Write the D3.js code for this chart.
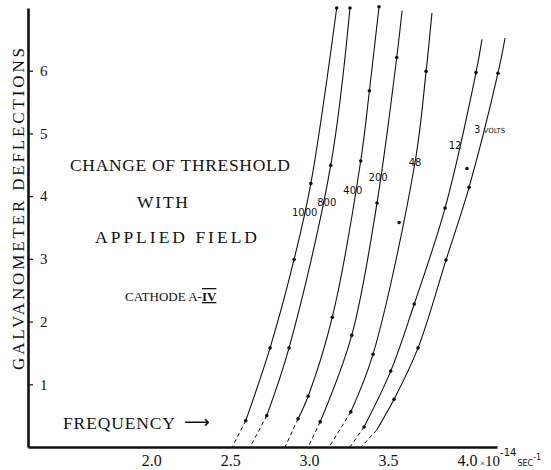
<!DOCTYPE html>
<html>
<head>
<meta charset="utf-8">
<script src="https://cdn.jsdelivr.net/npm/d3@7"></script>
<style>
  body { margin: 0; background: #fff; }
  svg { display: block; }
</style>
</head>
<body>
<div id="viz"></div>
<script>
// frequency in units of 10^14 / sec, deflection in galvanometer divisions
var freqTicks = [2.0, 2.5, 3.0, 3.5, 4.0];
var deflTicks = [1, 2, 3, 4, 5, 6];
var voltLabels = ["1000", "800", "400", "200", "48", "12", "3"];

// drawn curves (top to bottom)
var line1000 = [[3.175, 7.00], [3.011, 4.20], [2.905, 2.99], [2.753, 1.58], [2.599, 0.42]];
var line800 = [[3.259, 7.00], [3.137, 4.49], [2.873, 1.58], [2.732, 0.50]];
var line400 = [[3.443, 7.02], [3.382, 5.68], [3.327, 4.56], [3.147, 2.07], [2.994, 0.81], [2.930, 0.45]];
var line200 = [[3.589, 6.96], [3.555, 6.21], [3.430, 3.89], [3.270, 1.78], [3.070, 0.40]];
var line48 = [[3.778, 6.92], [3.741, 5.99], [3.671, 4.54], [3.405, 1.48], [3.264, 0.56]];
var line12 = [[4.095, 6.50], [4.057, 5.97], [3.861, 3.81], [3.666, 2.28], [3.517, 1.21], [3.348, 0.32]];
var line3 = [[4.241, 6.52], [4.196, 5.96], [4.013, 4.14], [3.867, 2.98], [3.690, 1.58], [3.538, 0.76], [3.428, 0.27]];

// measured points
var dots1000 = [[3.175, 7.00], [3.011, 4.20], [2.905, 2.99], [2.753, 1.58], [2.599, 0.42]];
var dots800 = [[3.259, 7.00], [3.137, 4.49], [2.873, 1.58], [2.732, 0.50]];
var dots400 = [[3.443, 7.02], [3.382, 5.68], [3.327, 4.56], [3.147, 2.07], [2.994, 0.81], [2.930, 0.45]];
var dots200 = [[3.555, 6.21], [3.430, 3.89], [3.270, 1.78], [3.070, 0.40]];
var dots48 = [[3.741, 5.99], [3.570, 3.58], [3.405, 1.48], [3.264, 0.56]];
var dots12 = [[4.057, 5.97], [4.000, 4.44], [3.861, 3.81], [3.666, 2.28], [3.517, 1.21], [3.348, 0.32]];
var dots3 = [[4.196, 5.96], [4.013, 4.14], [3.867, 2.98], [3.690, 1.58], [3.538, 0.76]];

// extrapolated threshold (zero deflection)
var thresholds = [2.513, 2.627, 2.848, 2.994, 3.127, 3.259, 3.329];

// where each voltage label sits
var labelAt = [[2.972, 3.74], [3.112, 3.91], [3.277, 4.10], [3.437, 4.31], [3.671, 4.54], [3.924, 4.82], [4.045, 5.07]];

var lines = [line1000, line800, line400, line200, line48, line12, line3];
var dots = [dots1000, dots800, dots400, dots200, dots48, dots12, dots3];

var width = 551;
var height = 470;

var svg = d3.select("#viz")
    .append("svg")
    .attr("width", width)
    .attr("height", height)
    .style("background", "#fff");

var x = d3.scaleLinear().domain([1.22, 4.19]).range([28, 497]);
var y = d3.scaleLinear().domain([0, 7]).range([447, 8]);

var serif = "'Liberation Serif', 'DejaVu Serif', serif";
var sans = "'DejaVu Sans', 'Noto Sans', sans-serif";

// y axis, ticks on the inside
var yAxis = svg.append("g")
    .attr("transform", "translate(" + x(1.22) + ",0)")
    .call(d3.axisRight(y).tickValues(deflTicks).tickSize(5).tickSizeOuter(0).tickPadding(7).tickFormat(d3.format("d")));
yAxis.select(".domain").attr("stroke", "#111").attr("stroke-width", 2.6);
yAxis.selectAll(".tick line").attr("stroke", "#111").attr("stroke-width", 1.2);
yAxis.selectAll(".tick text")
    .attr("fill", "#111")
    .style("font-family", serif)
    .style("font-size", "15px");

// x axis, labels only
var xAxis = svg.append("g")
    .attr("transform", "translate(0," + y(0) + ")")
    .call(d3.axisBottom(x).tickValues(freqTicks).tickSize(0).tickSizeOuter(0).tickPadding(8).tickFormat(d3.format(".1f")));
xAxis.select(".domain").attr("stroke", "#111").attr("stroke-width", 2.6);
xAxis.selectAll(".tick text")
    .attr("fill", "#111")
    .style("font-family", serif)
    .style("font-size", "16px");

// unit after 4.0
var unit = svg.append("text")
    .attr("x", x(4.0) + 13)
    .attr("y", 466)
    .attr("fill", "#111")
    .style("font-family", serif);
unit.append("tspan").style("font-size", "9px").text("×");
unit.append("tspan").style("font-size", "15px").text("10");
unit.append("tspan").attr("dy", -10).style("font-size", "10px").style("font-family", sans).text("-14");
unit.append("tspan").attr("dx", 1).attr("dy", 10).style("font-size", "8px").style("font-family", sans).text("SEC");
unit.append("tspan").attr("dy", -6).style("font-size", "8px").style("font-family", sans).text("-1");

// curves
var curveLine = d3.line()
    .x(function(d) { return x(d[0]); })
    .y(function(d) { return y(d[1]); })
    .curve(d3.curveCatmullRom.alpha(0.5));

svg.selectAll("path.curve")
    .data(lines)
    .enter()
    .append("path")
    .attr("class", "curve")
    .attr("d", curveLine)
    .attr("fill", "none")
    .attr("stroke", "#111")
    .attr("stroke-width", 1.1);

// dashed extrapolation to the axis
svg.selectAll("path.extrap")
    .data(lines)
    .enter()
    .append("path")
    .attr("class", "extrap")
    .attr("d", function(d, i) {
      return d3.line()
          .x(function(p) { return x(p[0]); })
          .y(function(p) { return y(p[1]); })([d[d.length - 1], [thresholds[i], 0]]);
    })
    .attr("fill", "none")
    .attr("stroke", "#111")
    .attr("stroke-width", 1)
    .attr("stroke-dasharray", "4,3");

svg.selectAll("g.dots")
    .data(dots)
    .enter()
    .append("g")
    .attr("class", "dots")
    .selectAll("circle")
    .data(function(d) { return d; })
    .enter()
    .append("circle")
    .attr("cx", function(d) { return x(d[0]); })
    .attr("cy", function(d) { return y(d[1]); })
    .attr("r", 1.8)
    .attr("fill", "#111");

// voltage labels
svg.selectAll("text.volt")
    .data(voltLabels)
    .enter()
    .append("text")
    .attr("class", "volt")
    .attr("x", function(d, i) { return x(labelAt[i][0]); })
    .attr("y", function(d, i) { return y(labelAt[i][1]) + 4; })
    .attr("text-anchor", function(d, i) { return i == 6 ? "start" : "middle"; })
    .attr("fill", "#111")
    .style("font-family", sans)
    .style("font-size", "10px")
    .text(function(d) { return d; })
    .filter(function(d, i) { return i == 6; })
    .append("tspan")
    .attr("dx", 3)
    .style("font-size", "7px")
    .text("VOLTS");

// titles
var titleLines = [
  { t: "CHANGE OF THRESHOLD", x: 70, y: 171, len: 220, size: 17.5 },
  { t: "WITH", x: 137, y: 208, len: 51, size: 17.5 },
  { t: "APPLIED FIELD", x: 95, y: 243, len: 162, size: 17.5 },
  { t: "FREQUENCY", x: 63, y: 429, len: 112, size: 17.5 }
];
svg.selectAll("text.title")
    .data(titleLines)
    .enter()
    .append("text")
    .attr("class", "title")
    .attr("x", function(d) { return d.x; })
    .attr("y", function(d) { return d.y; })
    .attr("textLength", function(d) { return d.len; })
    .attr("lengthAdjust", "spacing")
    .attr("fill", "#111")
    .style("font-family", serif)
    .style("font-size", function(d) { return d.size + "px"; })
    .text(function(d) { return d.t; });

svg.append("text")
    .attr("x", 184)
    .attr("y", 428)
    .attr("fill", "#111")
    .style("font-family", sans)
    .style("font-size", "18px")
    .text("⟶");

var cath = svg.append("text")
    .attr("x", 125)
    .attr("y", 301)
    .attr("fill", "#111")
    .style("font-family", serif)
    .style("font-size", "13px")
    .text("CATHODE A-");
cath.append("tspan")
    .style("text-decoration", "underline overline")
    .style("font-weight", "bold")
    .text("IV");

svg.append("text")
    .attr("transform", "translate(24,209) rotate(-90)")
    .attr("text-anchor", "middle")
    .attr("textLength", 322)
    .attr("lengthAdjust", "spacing")
    .attr("fill", "#111")
    .style("font-family", serif)
    .style("font-size", "17px")
    .text("GALVANOMETER DEFLECTIONS");
</script>
</body>
</html>
